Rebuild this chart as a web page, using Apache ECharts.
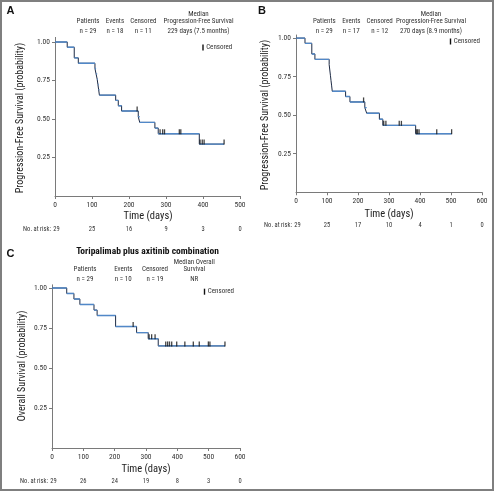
<!DOCTYPE html>
<html><head><meta charset="utf-8">
<script src="https://cdn.jsdelivr.net/npm/echarts@6/dist/echarts.min.js"></script>
<style>html,body{margin:0;padding:0;background:#fff}#c{width:494px;height:491px}</style>
</head><body><div id="c"></div>
<script>
// ---------- Panel A: PFS ----------
const A_times = [0, 33, 52, 63, 108, 111, 114, 116, 118, 120, 164, 171, 180, 225, 229, 270, 279, 390];
const A_surv  = [1, 0.966, 0.897, 0.862, 0.828, 0.793, 0.759, 0.724, 0.690, 0.655, 0.621, 0.586, 0.552, 0.515, 0.478, 0.441, 0.404, 0.337];
const A_end = 457;
const A_censors = [222, 284, 291, 296, 336, 340, 392, 398, 403, 457];
const A_riskTimes = [0, 100, 200, 300, 400, 500];
const A_risk = [29, 25, 16, 9, 3, 0];
const A_header = [["Patients", "n = 29"], ["Events", "n = 18"], ["Censored", "n = 11"]];
const A_median = ["Median", "Progression-Free Survival", "229 days (7.5 months)"];

// ---------- Panel B: PFS ----------
const B_times = [0, 29, 51, 61, 107, 109, 111, 113, 115, 117, 160, 174, 222, 228, 269, 280, 386];
const B_surv  = [1, 0.966, 0.897, 0.862, 0.828, 0.793, 0.759, 0.724, 0.690, 0.655, 0.621, 0.586, 0.549, 0.513, 0.474, 0.434, 0.380];
const B_end = 502;
const B_censors = [218, 283, 290, 333, 340, 388, 392, 397, 454, 502];
const B_riskTimes = [0, 100, 200, 300, 400, 500, 600];
const B_risk = [29, 25, 17, 10, 4, 1, 0];
const B_header = [["Patients", "n = 29"], ["Events", "n = 17"], ["Censored", "n = 12"]];
const B_median = ["Median", "Progression-Free Survival", "270 days (8.9 months)"];

// ---------- Panel C: OS ----------
const C_times = [0, 47, 70, 89, 134, 144, 203, 270, 307, 339];
const C_surv  = [1, 0.966, 0.931, 0.897, 0.862, 0.828, 0.759, 0.721, 0.683, 0.638];
const C_end = 552;
const C_censors = [259, 310, 318, 329, 363, 369, 375, 382, 398, 424, 451, 470, 499, 504, 552];
const C_riskTimes = [0, 100, 200, 300, 400, 500, 600];
const C_risk = [29, 26, 24, 19, 8, 3, 0];
const C_header = [["Patients", "n = 29"], ["Events", "n = 10"], ["Censored", "n = 19"]];
const C_median = ["Median Overall", "Survival", "NR"];
const C_title = "Toripalimab plus axitinib combination";

const yTicks = [0.25, 0.5, 0.75, 1];

const NARROW = "'Liberation Sans Narrow', 'Arial Narrow', 'Roboto Condensed', 'DejaVu Sans Condensed', 'Liberation Sans', sans-serif";
const SANS = "'Liberation Sans', Arial, sans-serif";

const chart = echarts.init(document.getElementById('c'), null, {renderer: 'canvas'});

const grids = [
  {left: 55, top: 37.4, width: 185, height: 158.6},
  {left: 296, top: 35, width: 186, height: 157.3},
  {left: 52, top: 284.8, width: 188, height: 163.2}
];
const xMax = [500, 600, 600];
const yMax = [1.03, 1.02, 1.02];

function survAt(times, surv, t) {
  let v = surv[0];
  for (let i = 0; i < times.length; i++) if (times[i] <= t) v = surv[i];
  return v;
}

function kmSeries(gi, times, surv, end, censors) {
  const pts = times.map((t, i) => [t, surv[i]]);
  pts.push([end, surv[surv.length - 1]]);
  const horiz = [];
  for (let i = 0; i < pts.length - 1; i++) {
    horiz.push([pts[i][0], pts[i][1]], [pts[i + 1][0], pts[i][1]], [pts[i + 1][0], '-']);
  }
  return [
    {type: 'line', xAxisIndex: gi, yAxisIndex: gi, data: pts, step: 'end', symbol: 'none',
     lineStyle: {color: '#1d2a44', width: 1}, silent: true, animation: false, z: 2},
    {type: 'line', xAxisIndex: gi, yAxisIndex: gi, data: horiz, symbol: 'none', connectNulls: false,
     lineStyle: {color: '#5188c8', width: 1.4}, silent: true, animation: false, z: 3},
    {type: 'scatter', xAxisIndex: gi, yAxisIndex: gi,
     data: censors.map(t => [t, survAt(times, surv, t)]),
     symbol: 'rect', symbolSize: [1.3, 5], symbolOffset: [0, -2],
     itemStyle: {color: '#151515'}, silent: true, animation: false, z: 4}
  ];
}

const axisLineStyle = {color: '#7a7a7a', width: 1};
const xAxes = grids.map((g, i) => ({
  type: 'value', gridIndex: i, min: 0, max: xMax[i], interval: 100,
  axisLine: {show: true, lineStyle: axisLineStyle},
  axisTick: {show: true, length: 3, lineStyle: axisLineStyle},
  axisLabel: {fontSize: 7.5, fontFamily: NARROW, color: '#333', margin: 5},
  splitLine: {show: false}
}));
const yAxes = grids.map((g, i) => ({
  type: 'value', gridIndex: i, min: 0, max: yMax[i],
  axisLine: {show: true, onZero: false, lineStyle: axisLineStyle},
  axisTick: {show: true, length: 3, lineStyle: axisLineStyle, customValues: yTicks},
  axisLabel: {fontSize: 7.5, fontFamily: NARROW, color: '#333', margin: 5,
              customValues: yTicks, formatter: v => v.toFixed(2)},
  splitLine: {show: false}
}));

function T(x, y, s, o) {
  o = o || {};
  return {type: 'text', x: x, y: y, rotation: o.rot || 0, silent: true,
    style: {text: s, fill: o.color || '#333', fontSize: o.size || 7, fontFamily: o.family || NARROW,
            fontWeight: o.weight || 'normal', align: o.align || 'center', verticalAlign: 'middle'}};
}

const graphic = [];
graphic.push({type: 'rect', silent: true, shape: {x: 1, y: 1, width: 492, height: 489},
  style: {fill: 'none', stroke: '#7f7f7f', lineWidth: 2}});
graphic.push(T(10.5, 10.5, 'A', {size: 11, weight: 'bold', family: SANS, color: '#111'}));
graphic.push(T(262, 10.5, 'B', {size: 11, weight: 'bold', family: SANS, color: '#111'}));
graphic.push(T(10.5, 253.5, 'C', {size: 11, weight: 'bold', family: SANS, color: '#111'}));
graphic.push(T(147.5, 251.7, C_title, {size: 9.5, weight: 'bold', color: '#111'}));

function header(cols, xs, ys, median, mx, mys) {
  cols.forEach((c, i) => { graphic.push(T(xs[i], ys[0], c[0])); graphic.push(T(xs[i], ys[1], c[1])); });
  median.forEach((m, i) => graphic.push(T(mx, mys[i], m)));
}
header(A_header, [88, 115, 143.3], [21.7, 31.5], A_median, 198.5, [14, 21.7, 31.5]);
header(B_header, [324.3, 351.3, 379.7], [21.7, 31.2], B_median, 431, [14, 21.7, 31.2]);
header(C_header, [85, 123.3, 155], [269.3, 279.3], C_median, 194.3, [262.7, 269.3, 279.3]);

function censLegend(xBar, xEnd, y) {
  graphic.push({type: 'rect', silent: true, shape: {x: xBar - 0.7, y: y - 3, width: 1.4, height: 6}, style: {fill: '#111'}});
  graphic.push(T(xEnd, y, 'Censored', {align: 'right'}));
}
censLegend(203, 232.3, 47.5);
censLegend(450.5, 480, 41.5);
censLegend(204.5, 234, 291.7);

graphic.push(T(20, 118, 'Progression-Free Survival (probability)', {size: 10, rot: Math.PI / 2, color: '#222'}));
graphic.push(T(265, 115, 'Progression-Free Survival (probability)', {size: 10, rot: Math.PI / 2, color: '#222'}));
graphic.push(T(22, 366, 'Overall Survival (probability)', {size: 10, rot: Math.PI / 2, color: '#222'}));
graphic.push(T(148, 216.7, 'Time (days)', {size: 10.5, color: '#222'}));
graphic.push(T(389, 214, 'Time (days)', {size: 10.5, color: '#222'}));
graphic.push(T(146, 469.5, 'Time (days)', {size: 10.5, color: '#222'}));

const series = [].concat(
  kmSeries(0, A_times, A_surv, A_end, A_censors),
  kmSeries(1, B_times, B_surv, B_end, B_censors),
  kmSeries(2, C_times, C_surv, C_end, C_censors)
);

chart.setOption({
  animation: false,
  backgroundColor: '#fff',
  grid: grids,
  xAxis: xAxes,
  yAxis: yAxes,
  series: series,
  graphic: graphic
});

const riskRows = [
  {gi: 0, times: A_riskTimes, vals: A_risk, y: 229},
  {gi: 1, times: B_riskTimes, vals: B_risk, y: 225.7},
  {gi: 2, times: C_riskTimes, vals: C_risk, y: 481}
];
riskRows.forEach(r => {
  r.times.forEach((t, i) => {
    const p = chart.convertToPixel({gridIndex: r.gi}, [t, 0]);
    graphic.push(T(p[0] + (i === 0 ? 1.5 : 0), r.y, String(r.vals[i]), {size: 6.5}));
    if (i === 0) graphic.push(T(p[0] - 4, r.y, 'No. at risk:', {size: 6.5, align: 'right'}));
  });
});
chart.setOption({graphic: graphic});
</script>
</body></html>
